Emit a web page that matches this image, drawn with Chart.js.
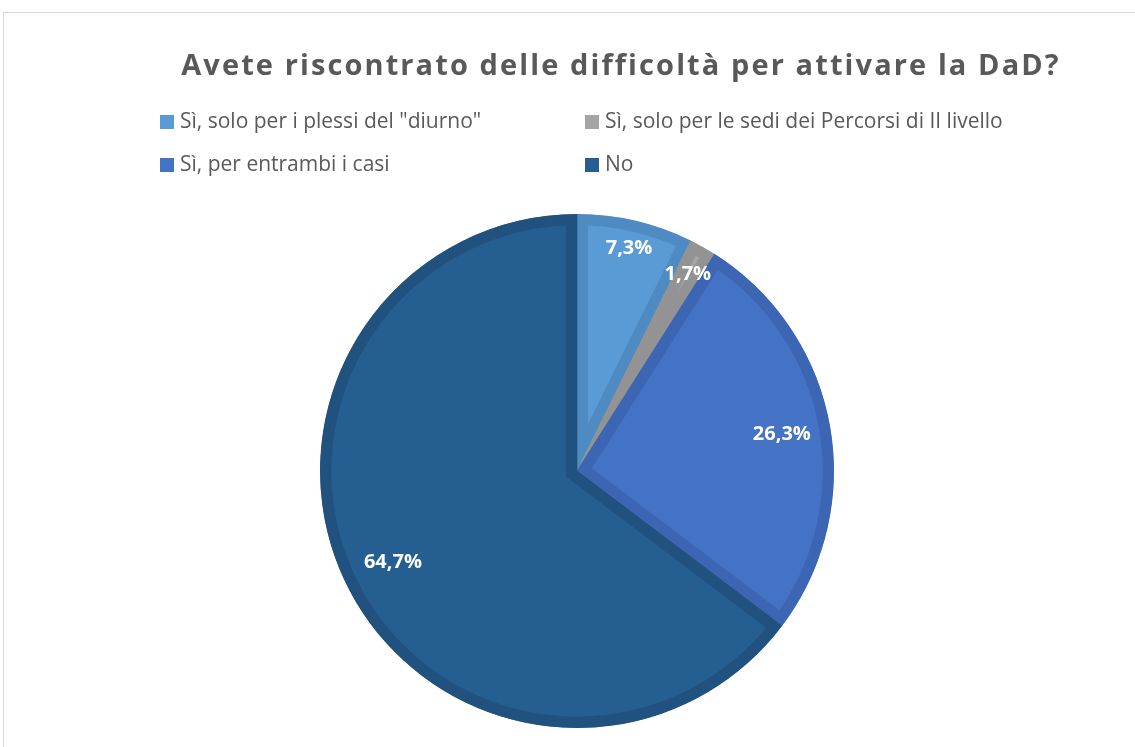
<!DOCTYPE html>
<html><head><meta charset="utf-8">
<script src="https://cdn.jsdelivr.net/npm/chart.js@4.4.0/dist/chart.umd.min.js"></script>
<style>
html,body{margin:0;padding:0;background:#fff;overflow:hidden}
#wrap{position:relative;width:1135px;height:747px}
#frame{position:absolute;left:3px;top:12px;width:1200px;height:800px;border-top:1px solid #d9d9d9;border-left:1px solid #d9d9d9;box-sizing:border-box}
canvas{position:absolute;left:0;top:0}
</style></head><body>
<div id="wrap"><div id="frame"></div><canvas id="c" width="1135" height="747"></canvas></div>
<script>
const chartTitle = 'Avete riscontrato delle difficoltà per attivare la DaD?';
const categories = ['Sì, solo per i plessi del "diurno"', 'Sì, solo per le sedi dei Percorsi di II livello', 'Sì, per entrambi i casi', 'No'];
const values = [7.3, 1.7, 26.3, 64.7];
const fillColors = ['#5B9BD5', '#A5A5A5', '#4472C4', '#255E91'];
const edgeColors = ['#4F8BC3', '#939393', '#3C66B3', '#21517E'];
// radial placement of each data label, as a fraction of the pie radius
const labelRadialPos = [0.89, 0.88, 0.81, 0.8];

const textGray = '#595959';

const titlePlugin = {
  id: 'excelTitle',
  afterDraw(chart) {
    const ctx = chart.ctx;
    ctx.save();
    ctx.font = 'bold 29px "Open Sans", sans-serif';
    ctx.letterSpacing = '2.1px';
    ctx.fillStyle = textGray;
    ctx.textAlign = 'center';
    ctx.textBaseline = 'middle';
    ctx.fillText(chartTitle, 621, 67);
    ctx.restore();
  }
};

const legendPlugin = {
  id: 'gridLegend',
  afterDraw(chart) {
    const ctx = chart.ctx;
    const cols = [160, 585], rows = [122, 165];
    ctx.save();
    ctx.font = '21px "Open Sans", sans-serif';
    ctx.textBaseline = 'middle';
    ctx.textAlign = 'left';
    chart.data.labels.forEach((lab, i) => {
      const x = cols[i % 2], y = rows[Math.floor(i / 2)];
      ctx.fillStyle = chart.data.datasets[0].backgroundColor[i];
      ctx.fillRect(x, y - 7, 14, 14);
      ctx.fillStyle = textGray;
      ctx.fillText(lab, x + 20, y);
    });
    ctx.restore();
  }
};

const labelPlugin = {
  id: 'sliceLabels',
  afterDatasetsDraw(chart) {
    const ctx = chart.ctx;
    const meta = chart.getDatasetMeta(0);
    ctx.save();
    ctx.font = 'bold 20px "Open Sans", sans-serif';
    ctx.fillStyle = '#ffffff';
    ctx.textAlign = 'center';
    ctx.textBaseline = 'middle';
    meta.data.forEach((arc, i) => {
      const p = arc.getProps(['x', 'y', 'startAngle', 'endAngle', 'outerRadius']);
      const a = (p.startAngle + p.endAngle) / 2;
      const r = p.outerRadius * labelRadialPos[i];
      const txt = values[i].toFixed(1).replace('.', ',') + '%';
      ctx.fillText(txt, p.x + Math.cos(a) * r, p.y + Math.sin(a) * r);
    });
    ctx.restore();
  }
};

new Chart(document.getElementById('c'), {
  type: 'pie',
  data: {
    labels: categories,
    datasets: [{
      data: values,
      backgroundColor: fillColors,
      borderColor: edgeColors,
      hoverBackgroundColor: fillColors,
      hoverBorderColor: edgeColors,
      borderWidth: 11,
      hoverBorderWidth: 11,
      borderAlign: 'inner',
      borderJoinStyle: 'miter'
    }]
  },
  options: {
    responsive: false,
    animation: false,
    devicePixelRatio: 1,
    layout: { padding: { top: 214, bottom: 19, left: 19, right: 0 } },
    plugins: {
      legend: { display: false },
      title: { display: false },
      tooltip: { enabled: false }
    },
    events: []
  },
  plugins: [titlePlugin, legendPlugin, labelPlugin]
});
</script>
</body></html>
